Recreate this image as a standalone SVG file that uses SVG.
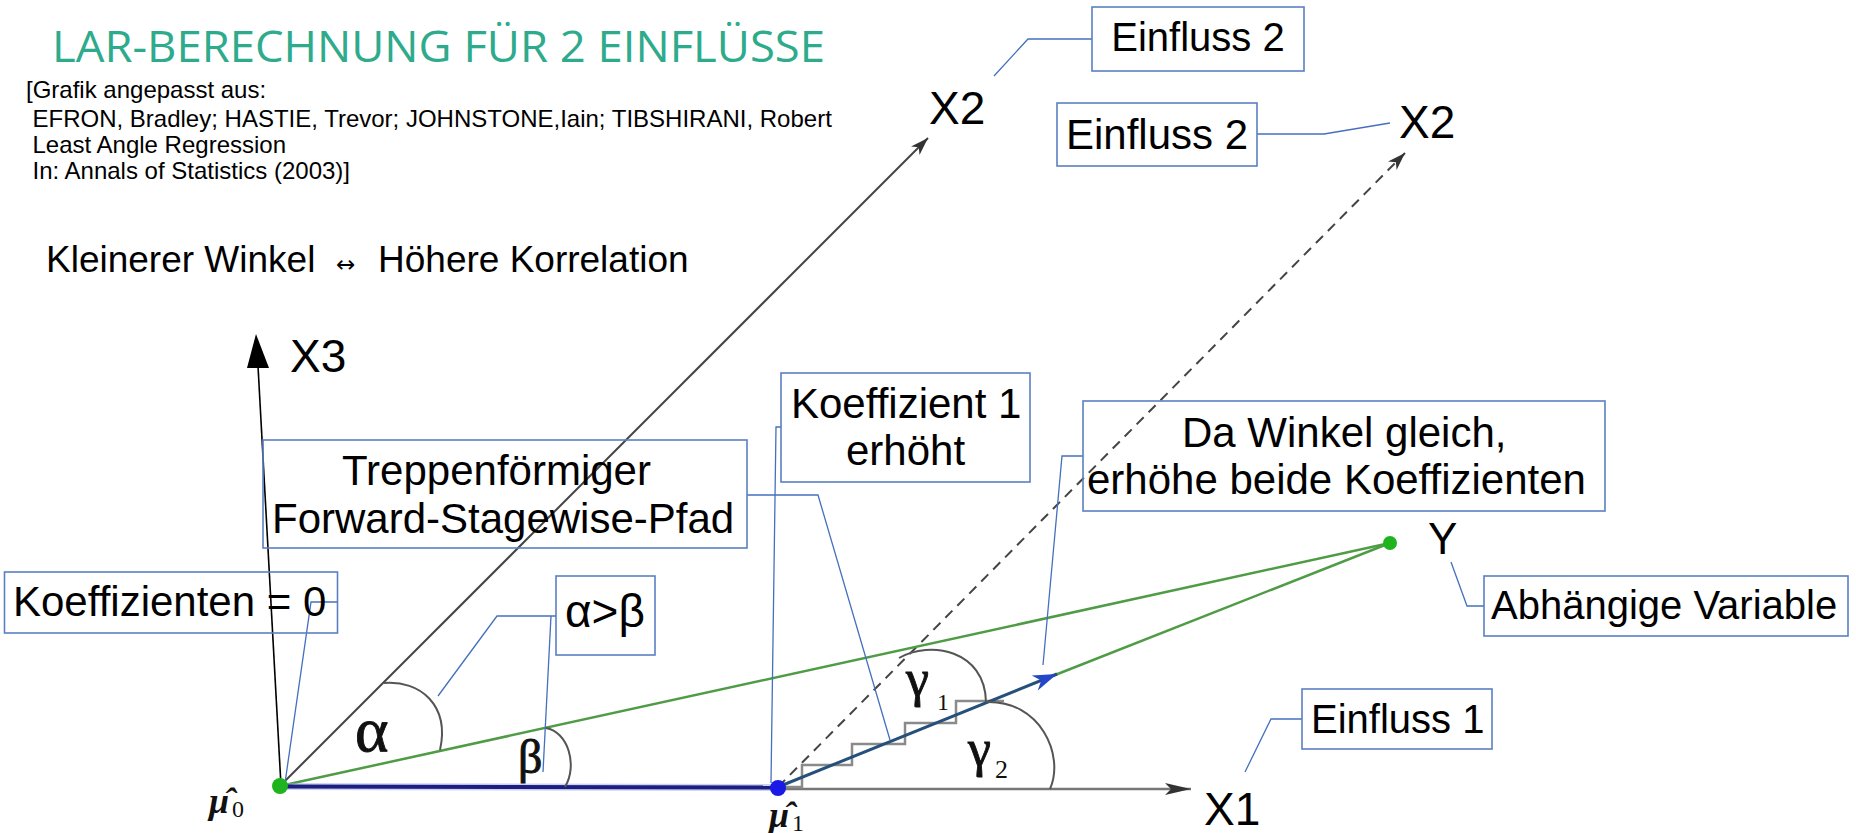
<svg xmlns="http://www.w3.org/2000/svg" width="1856" height="833" viewBox="0 0 1856 833">
<style>
.box{fill:none;stroke:#5b80c2;stroke-width:1.6}
.call{fill:none;stroke:#4470be;stroke-width:1.3}
.t{font-family:"Liberation Sans",Arial,sans-serif;fill:#000}
.ser{font-family:"Liberation Serif","Times New Roman",serif;fill:#111}
.gk{font-family:"Liberation Serif","Times New Roman",serif;fill:#111;stroke:#111;stroke-width:0.9}
.axis{fill:none;stroke:#444;stroke-width:2}
.arc{fill:none;stroke:#555;stroke-width:2}
.grn{fill:none;stroke:#4f9b46;stroke-width:2.5}
</style>
<defs>
<marker id="ah" viewBox="-20 -8 22 16" refX="0" refY="0" markerWidth="22" markerHeight="16" markerUnits="userSpaceOnUse" orient="auto"><path d="M0,0 L-18,-6 L-13,0 L-18,6 Z" fill="#333"/></marker>
<marker id="ahx" viewBox="-28 -8 30 16" refX="0" refY="0" markerWidth="30" markerHeight="16" markerUnits="userSpaceOnUse" orient="auto"><path d="M0,0 L-26,-6 L-20,0 L-26,6 Z" fill="#333"/></marker>
<marker id="ahb" viewBox="-26 -10 28 20" refX="0" refY="0" markerWidth="28" markerHeight="20" markerUnits="userSpaceOnUse" orient="auto"><path d="M0,0 L-24,-8 L-17,0 L-24,8 Z" fill="#2446c8"/></marker>
</defs>
<rect width="1856" height="833" fill="#fff"/>

<g id="title"><text x="52" y="62" font-family="'Open Sans','Liberation Sans',sans-serif" font-size="44" fill="#2eaa8c" textLength="773" lengthAdjust="spacingAndGlyphs">LAR-BERECHNUNG FÜR 2 EINFLÜSSE</text></g>

<g id="citation" class="t" font-size="24">
<text class="t" x="26" y="98">[Grafik angepasst aus:</text>
<text class="t" x="32.5" y="127">EFRON, Bradley; HASTIE, Trevor; JOHNSTONE,Iain; TIBSHIRANI, Robert</text>
<text class="t" x="32.5" y="153">Least Angle Regression</text>
<text class="t" x="32.5" y="179">In: Annals of Statistics (2003)]</text>
</g>

<g id="note"><text class="t" y="272" font-size="37"><tspan x="46">Kleinerer Winkel</tspan><tspan x="336" font-family="'DejaVu Sans',sans-serif" font-size="23">↔</tspan><tspan x="378">Höhere Korrelation</tspan></text></g>

<g id="connectors">
<line class="axis" x1="280" y1="786" x2="928" y2="138" marker-end="url(#ah)"/>
<line class="axis" x1="778" y1="787" x2="1405" y2="153" stroke-dasharray="10,7" marker-end="url(#ah)"/>
<line x1="778" y1="789" x2="1191" y2="789" stroke="#777" stroke-width="2.5" marker-end="url(#ahx)"/>
<line x1="281" y1="786" x2="258" y2="366" stroke="#000" stroke-width="1.6"/>
<polygon points="256,334 247,368 269,368" fill="#000"/>
<line class="grn" x1="280" y1="786" x2="1390" y2="543"/>
<line class="grn" x1="1050" y1="677" x2="1390" y2="543"/>
<line x1="280" y1="786.5" x2="778" y2="787.5" stroke="#9aa6e8" stroke-width="7" opacity="0.5"/>
<line x1="280" y1="786.5" x2="778" y2="787.5" stroke="#1c1f80" stroke-width="4"/>
<path d="M778,787 H802 V765 H852 V744 H905 V723 H956 V701 H1004" fill="none" stroke="#8a8a8a" stroke-width="2.5"/>
<line x1="778" y1="787" x2="1057" y2="674" stroke="#24507a" stroke-width="3" marker-end="url(#ahb)"/>
<path class="arc" d="M384,683 C420,680 450,705 440,750"/>
<path class="arc" d="M546,728 C568,732 578,765 565,787"/>
<path class="arc" d="M899,658 C930,640 985,650 986,702"/>
<path class="arc" d="M986,702 C1040,700 1065,755 1050,789"/>
<polyline class="call" points="1092,39 1028,39 994,76"/>
<polyline class="call" points="1257,134 1324,134 1390,123"/>
<polyline class="call" points="747,495 818,495 890,740"/>
<polyline class="call" points="781,427 776,427 771,783"/>
<polyline class="call" points="1083,456 1062,456 1043,665"/>
<polyline class="call" points="337.5,602 311,602 285,783"/>
<polyline class="call" points="556,616 497,616 438,696"/>
<polyline class="call" points="551,616 543,772"/>
<polyline class="call" points="1302,719 1271,719 1245,772"/>
<polyline class="call" points="1484,606 1467,606 1451,562"/>
</g>

<g id="points">
<circle cx="280" cy="786" r="8" fill="#1fb31f"/>
<circle cx="778" cy="788" r="8" fill="#1a1ae6"/>
<circle cx="1390" cy="543" r="7" fill="#1fb31f"/>
</g>

<g id="labels">
<text class="t" x="929" y="124" font-size="46">X2</text>
<text class="t" x="1399" y="138" font-size="46">X2</text>
<text class="t" x="290" y="372" font-size="46">X3</text>
<text class="t" x="1204" y="825" font-size="46">X1</text>
<text class="t" x="1428" y="554" font-size="44">Y</text>
<text class="gk" x="355" y="751" font-size="64">α</text>
<text class="gk" x="518" y="773" font-size="48">β</text>
<text class="ser"><tspan class="gk" x="906" y="696" font-size="52">γ</tspan><tspan x="937" y="710" font-size="24">1</tspan></text>
<text class="ser"><tspan class="gk" x="968" y="766" font-size="52">γ</tspan><tspan x="995" y="778" font-size="26">2</tspan></text>
<text class="ser"><tspan x="209" y="813" font-size="36" font-weight="bold" font-style="italic">μ̂</tspan><tspan x="232" y="817" font-size="24">0</tspan></text>
<text class="ser"><tspan x="769" y="827" font-size="36" font-weight="bold" font-style="italic">μ̂</tspan><tspan x="792" y="831" font-size="24">1</tspan></text>
</g>

<g id="box-einfluss2-top"><rect class="box" x="1092" y="7" width="212" height="64"/><text class="t" x="1198" y="51" font-size="40" text-anchor="middle">Einfluss 2</text></g>
<g id="box-einfluss2"><rect class="box" x="1057" y="103" width="200" height="63"/><text class="t" x="1157" y="149" font-size="42" text-anchor="middle">Einfluss 2</text></g>
<g id="box-treppen"><rect class="box" x="263" y="440" width="484" height="108"/><text class="t" x="342" y="485" font-size="42">Treppenförmiger</text><text class="t" x="272" y="533" font-size="42">Forward-Stagewise-Pfad</text></g>
<g id="box-koeff1"><rect class="box" x="781" y="373" width="249" height="109"/><text class="t" x="791" y="418" font-size="42">Koeffizient 1</text><text class="t" x="846" y="465" font-size="42">erhöht</text></g>
<g id="box-winkel"><rect class="box" x="1083" y="401" width="522" height="110"/><text class="t" x="1182" y="447" font-size="42">Da Winkel gleich,</text><text class="t" x="1087" y="494" font-size="42">erhöhe beide Koeffizienten</text></g>
<g id="box-koeff0"><rect class="box" x="4.5" y="572" width="333" height="61"/><text class="t" x="13" y="616" font-size="42">Koeffizienten = 0</text></g>
<g id="box-ab"><rect class="box" x="556" y="576" width="99" height="79" stroke-width="2.4"/><text class="t" x="565" y="627" font-size="46">α&gt;β</text></g>
<g id="box-einfluss1"><rect class="box" x="1302" y="689" width="190" height="60"/><text class="t" x="1311" y="733" font-size="40">Einfluss 1</text></g>
<g id="box-abh"><rect class="box" x="1484" y="576" width="364" height="60"/><text class="t" x="1491" y="619" font-size="40">Abhängige Variable</text></g>
</svg>
